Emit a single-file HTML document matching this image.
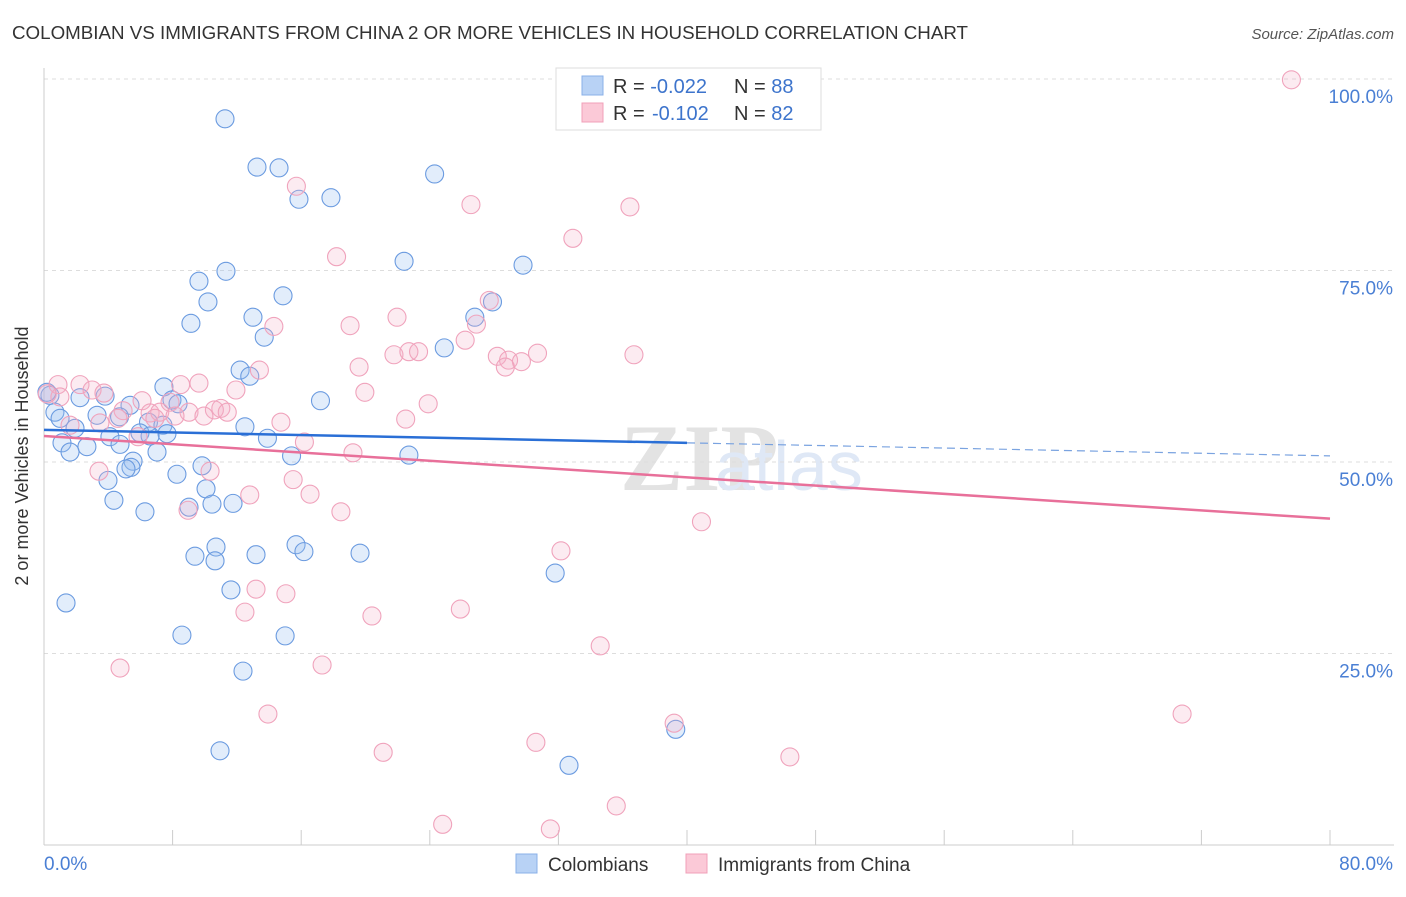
<!DOCTYPE html>
<html><head><meta charset="utf-8"><style>
body{margin:0;background:#fff;font-family:"Liberation Sans",sans-serif;}
</style></head><body>
<svg width="1406" height="892" xmlns="http://www.w3.org/2000/svg" id="chart">
<text x="12" y="39" font-size="18" fill="#333" textLength="956" lengthAdjust="spacingAndGlyphs">COLOMBIAN VS IMMIGRANTS FROM CHINA 2 OR MORE VEHICLES IN HOUSEHOLD CORRELATION CHART</text>
<text x="1394" y="39" font-size="15" fill="#555" text-anchor="end" font-style="italic">Source: ZipAtlas.com</text>
<text x="620" y="490" font-size="95" fill="#e3e3e3" font-weight="bold" font-family="Liberation Serif">ZIP</text>
<text x="715" y="490" font-size="70" fill="#dfe8f6">atlas</text>
<g id="grid"></g>
<g id="pts"></g>
<g id="trend"></g>
<text x="28" y="456" font-size="18" fill="#333" text-anchor="middle" transform="rotate(-90 28 456)">2 or more Vehicles in Household</text>
<text x="44" y="870" font-size="19" fill="#4a7fd4">0.0%</text>
<text x="1393" y="870" font-size="19" fill="#4a7fd4" text-anchor="end">80.0%</text>
<g>
<rect x="556" y="68" width="265" height="62" fill="#fff" stroke="#ddd"/>
<rect x="582" y="76" width="21" height="19" fill="#b8d2f5" stroke="#8ab0e8"/>
<rect x="582" y="103" width="21" height="19" fill="#fbc9d7" stroke="#f0a0b8"/>
<text x="613" y="93" font-size="20" fill="#333">R = <tspan fill="#3d74cc">-0.022</tspan><tspan x="734">N = </tspan><tspan fill="#3d74cc">88</tspan></text>
<text x="613" y="120" font-size="20" fill="#333">R = <tspan fill="#3d74cc" x="652">-0.102</tspan><tspan x="734">N = </tspan><tspan fill="#3d74cc">82</tspan></text>
</g>
<g>
<rect x="516" y="854" width="21" height="19" fill="#b8d2f5" stroke="#8ab0e8"/>
<text x="548" y="871" font-size="19" fill="#333">Colombians</text>
<rect x="686" y="854" width="21" height="19" fill="#fbc9d7" stroke="#f0a0b8"/>
<text x="718" y="871" font-size="19" fill="#333">Immigrants from China</text>
</g>
</svg>
<script>
const yTicks=[25,50,75,100];
const yTickLabels=["25.0%","50.0%","75.0%","100.0%"];
const xTicks=[0,8,16,24,32,40,48,56,64,72,80];
const blueX=[11.26,13.25,14.62,24.3,15.86,17.85,22.4,29.8,11.32,9.64,14.87,10.2,27.9,26.8,13.0,9.14,13.7,24.9,12.2,12.8,7.46,17.2,2.24,3.8,5.35,7.96,8.34,0.68,1.0,3.3,4.7,6.5,7.4,12.5,1.93,4.1,5.97,7.65,13.9,1.12,2.67,4.73,6.6,1.62,7.03,15.4,22.7,5.54,5.41,9.83,5.1,8.27,3.98,10.08,4.35,10.45,11.76,9.02,6.28,10.7,15.68,16.17,9.39,13.19,19.66,10.64,31.8,11.63,1.37,8.58,15.0,12.38,39.3,10.95,32.66,0.37,0.18];
const blueY=[94.8,88.5,88.4,87.6,84.3,84.5,76.2,75.7,74.9,73.6,71.7,70.9,70.9,68.9,68.9,68.1,66.3,64.9,62.0,61.2,59.8,58.0,58.4,58.6,57.4,58.1,57.6,56.5,55.7,56.1,55.9,55.2,54.8,54.6,54.4,53.3,53.8,53.7,53.1,52.5,52.0,52.3,53.4,51.3,51.3,50.8,50.9,50.1,49.3,49.5,49.1,48.4,47.6,46.5,45.0,44.5,44.6,44.1,43.5,38.9,39.2,38.3,37.7,37.9,38.1,37.1,35.5,33.3,31.6,27.4,27.3,22.7,15.1,12.3,10.4,58.7,59.1];
const pinkX=[77.6,15.7,26.56,36.45,32.9,18.2,27.7,26.9,21.96,19.04,14.3,26.2,21.77,22.7,23.3,28.2,28.9,29.7,28.7,30.7,36.7,19.6,13.4,0.87,2.24,8.5,9.64,11.94,2.99,3.73,19.96,0.99,6.1,7.84,23.9,11.0,10.6,4.92,6.6,7.2,9.02,11.4,9.95,4.6,6.9,8.15,22.5,14.74,3.48,1.62,5.85,16.2,19.22,3.42,10.33,15.5,16.55,12.8,8.96,18.47,40.9,32.16,13.19,15.05,25.9,12.5,20.4,34.6,4.73,17.3,13.93,70.8,39.2,30.6,21.1,46.4,35.6,24.8,31.5,0.2];
const pinkY=[99.9,86.0,83.6,83.3,79.2,76.8,71.1,68.0,68.9,67.8,67.7,65.9,64.0,64.4,64.4,63.8,63.3,63.1,62.4,64.2,64.0,62.4,62.0,60.1,60.1,60.1,60.3,59.4,59.4,59.0,59.1,58.5,58.0,57.8,57.6,57.0,56.8,56.7,56.4,56.5,56.5,56.5,56.0,55.7,55.7,56.0,55.6,55.2,55.1,54.8,53.3,52.6,51.2,48.8,48.8,47.7,45.8,45.7,43.7,43.5,42.2,38.4,33.4,32.8,30.8,30.4,29.9,26.0,23.1,23.5,17.1,17.1,15.9,13.4,12.1,11.5,5.1,2.7,2.1,58.9];
const blueTrend=[54.2,52.5,50.8];
const pinkTrend=[53.4,42.6];
const NS="http://www.w3.org/2000/svg";
const X=v=>44+v/80*1286, Y=v=>845-v*7.66;
function mk(t,a,p){const e=document.createElementNS(NS,t);for(const k in a)e.setAttribute(k,a[k]);p.appendChild(e);return e;}
const g=document.getElementById('grid');
yTicks.forEach((t,i)=>{
 const l=mk('line',{x1:44,x2:1394,y1:Y(t),y2:Y(t),stroke:'#ddd','stroke-dasharray':'4,4'},g);
 
 
 const tx=mk('text',{x:1393,y:Y(t)+24,'font-size':19,fill:'#4a7fd4','text-anchor':'end'},g);
 tx.textContent=yTickLabels[i];
 
 
});
const ax=mk('line',{x1:44,x2:1394,y1:845,y2:845,stroke:'#ccc'},g);


const ay=mk('line',{x1:44,x2:44,y1:68,y2:845,stroke:'#ccc'},g);


xTicks.forEach(t=>{
 const l=mk('line',{x1:X(t),x2:X(t),y1:830,y2:845,stroke:'#ccc'},g);
 
 
});
const p=document.getElementById('pts');
blueX.forEach((v,i)=>{
 const c=mk('circle',{cx:X(v),cy:Y(blueY[i]),r:9,fill:'rgba(150,190,240,0.28)',stroke:'#6b9be0','stroke-width':1.1},p);
 
 
});
pinkX.forEach((v,i)=>{
 const c=mk('circle',{cx:X(v),cy:Y(pinkY[i]),r:9,fill:'rgba(245,175,200,0.25)',stroke:'#f0a3bc','stroke-width':1.1},p);
 
 
});
const tr=document.getElementById('trend');
const b1=mk('line',{x1:X(0),y1:Y(blueTrend[0]),x2:X(40),y2:Y(blueTrend[1]),stroke:'#2a6fd6','stroke-width':2.5},tr);


const b2=mk('line',{x1:X(40),y1:Y(blueTrend[1]),x2:X(80),y2:Y(blueTrend[2]),stroke:'#7aa3e0','stroke-width':1.2,'stroke-dasharray':'8,5'},tr);


const p1=mk('line',{x1:X(0),y1:Y(pinkTrend[0]),x2:X(80),y2:Y(pinkTrend[1]),stroke:'#e8709a','stroke-width':2.5},tr);


</script>
</body></html>
